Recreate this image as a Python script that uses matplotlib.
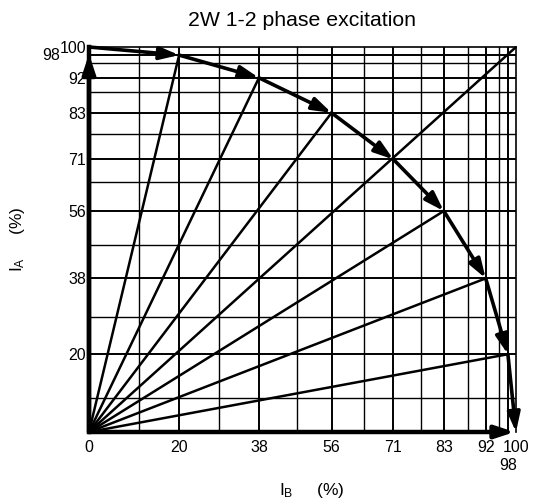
"""Current vector diagram for 2W 1-2 phase excitation, drawn with Matplotlib."""

import numpy as np
import matplotlib
matplotlib.use('Agg')
import matplotlib.pyplot as plt


plt.rcParams['font.family'] = ['Liberation Sans', 'DejaVu Sans']
plt.rcParams['mathtext.fontset'] = 'custom'
plt.rcParams['mathtext.rm'] = 'Liberation Sans'
plt.rcParams['mathtext.it'] = 'Liberation Sans'


# ==============================================================================
# data
# ==============================================================================

ib_steps = [0, 20, 38, 56, 71, 83, 92, 98, 100]
ia_steps = [100, 98, 92, 83, 71, 56, 38, 20, 0]

grid_major = [20, 38, 56, 71, 83, 92, 98]
grid_minor = [10, 29, 47, 63, 77, 88, 96]

xtick_values = [0, 20, 38, 56, 71, 83, 92, 100]
ytick_values = [20, 38, 56, 71, 83, 92, 100]
extra_tick = 98

TITLE  = '2W 1-2 phase excitation'
XLABEL = r'I$_\mathregular{B}$     (%)'
YLABEL = r'I$_\mathregular{A}$     (%)'


# ==============================================================================
# axis layout (the printed diagram is not drawn to a linear scale)
# ==============================================================================

X_KNOTS = [0, 10, 20, 29, 38, 47, 56, 63, 71, 77, 83, 88, 92, 96, 98, 100]
X_PLACE = [0, 11.8, 21.1, 30.4, 39.8, 48.6, 56.8, 64.4, 71.3, 77.7, 83.1, 88.8, 92.9, 96.0, 98.1, 100]

Y_KNOTS = [0, 10, 20, 29, 38, 47, 56, 63, 71, 77, 83, 88, 92, 98, 100]
Y_PLACE = [0, 8.8, 20.2, 29.8, 39.9, 48.5, 57.4, 65.0, 70.8, 77.3, 82.9, 88.2, 92.0, 97.9, 100]


# ==============================================================================
# helpers
# ==============================================================================


def piecewise(knots, place):
    def forward(v):
        return np.interp(v, knots, place)

    def inverse(p):
        return np.interp(p, place, knots)
    return forward, inverse


def draw_arrow(ax, start, end, width, shrink=0, zorder=10):
    arrowprops = {
        'arrowstyle'      : '-|>,head_length=1.15,head_width=0.38',
        'connectionstyle' : 'arc3,rad=0.0',
        'linewidth'       : width,
        'color'           : '#000000',
        'shrinkA'         : 0,
        'shrinkB'         : shrink,
        'mutation_scale'  : 10,
        'clip_on'         : False,
    }
    ax.annotate('', xy=end, xytext=start, arrowprops=arrowprops,
                annotation_clip=False, zorder=zorder)


# ==============================================================================
# figure
# ==============================================================================

fig = plt.figure(figsize=(5.36, 5.04), dpi=100)
ax = fig.add_axes([89 / 536, 1 - 432 / 504, 427 / 536, 385 / 504])
ax.set_xscale('function', functions=piecewise(X_KNOTS, X_PLACE))
ax.set_yscale('function', functions=piecewise(Y_KNOTS, Y_PLACE))
ax.set_xlim(0, 100)
ax.set_ylim(0, 100)

# grid
for v in grid_minor:
    ax.axvline(v, color='#000000', lw=1.0, zorder=1)
    ax.axhline(v, color='#000000', lw=1.0, zorder=1)
for v in grid_major:
    ax.axvline(v, color='#000000', lw=1.4, zorder=1)
    ax.axhline(v, color='#000000', lw=1.4, zorder=1)

# radial vectors from the origin
for x, y in zip(ib_steps[1:-1], ia_steps[1:-1]):
    if x == y:
        ax.plot([0, 100], [0, 100], color='#000000', lw=1.8, zorder=3,
                clip_on=False, solid_capstyle='butt')
    else:
        ax.plot([0, x], [0, y], color='#000000', lw=1.8, zorder=3,
                solid_capstyle='butt')

# step arrows along the arc
for i in range(len(ib_steps) - 1):
    draw_arrow(ax, (ib_steps[i], ia_steps[i]), (ib_steps[i + 1], ia_steps[i + 1]), 2.6)

# axis vectors
draw_arrow(ax, (0, 0), (ib_steps[0], ia_steps[0]), 3.2, shrink=5)
draw_arrow(ax, (0, 0), (ib_steps[-1], ia_steps[-1]), 3.2, shrink=1)

# ticks
ax.set_xticks(xtick_values)
ax.set_yticks(ytick_values)
ax.tick_params(which='both', length=0, labelsize=11.5)
ax.tick_params(axis='x', pad=6)
ax.tick_params(axis='y', pad=2)
ax.text(extra_tick, -0.086, str(extra_tick), transform=ax.get_xaxis_transform(),
        ha='center', va='center', fontsize=11.5)
ax.text(-0.068, extra_tick, str(extra_tick), transform=ax.get_yaxis_transform(),
        ha='right', va='center', fontsize=11.5)

for side in ('top', 'right'):
    ax.spines[side].set_linewidth(1.2)
ax.spines['left'].set_linewidth(3.2)
ax.spines['bottom'].set_visible(False)

# labels
ax.set_title(TITLE, fontsize=15.3, pad=15)
ax.set_xlabel(XLABEL, fontsize=12.5)
ax.set_ylabel(YLABEL, fontsize=12.5)
ax.xaxis.set_label_coords(0.523, -0.128)
ax.yaxis.set_label_coords(-0.145, 0.5)

fig.savefig('out.png', dpi=100)
